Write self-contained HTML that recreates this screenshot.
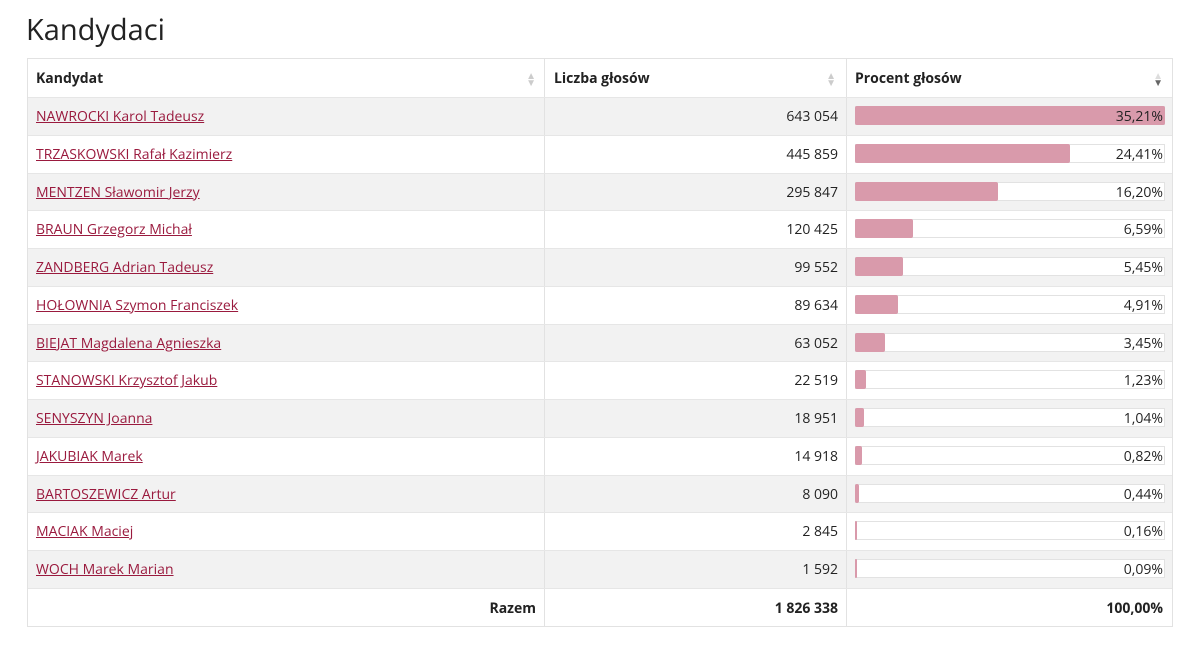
<!DOCTYPE html>
<html><head><meta charset="utf-8"><style>
body{margin:0;width:1200px;height:657px;background:#fff;font-family:"Open Sans","Liberation Sans",sans-serif;color:#222;position:relative;overflow:hidden}
h1{position:absolute;left:26px;top:10px;margin:0;font-weight:400;font-size:29px;color:#222}
.tbl{position:absolute;left:27px;top:58px;width:1146px;border:1px solid #e2e2e2;box-sizing:border-box}
.row{position:relative;height:37.75px;border-top:1px solid #e6e6e6;box-sizing:border-box;font-size:14px}
.row:first-child{border-top:none;height:38px}
.row.g{background:#f2f2f2}
.c1,.c2,.c3{position:absolute;top:0;height:100%;box-sizing:border-box}
.c1{left:0;width:516px;padding-left:8px;line-height:37px}
.c2{left:516px;width:302px;border-left:1px solid #e2e2e2;text-align:right;padding-right:8px;line-height:37px}
.c3{left:818px;width:327px;border-left:1px solid #e2e2e2}
a{color:#9a1a3e;text-decoration:underline}
.hd{font-weight:bold;font-size:14px}
.hd .c1,.hd .c2,.hd .c3 span{line-height:39px}
.bar{position:absolute;left:8px;top:8px;width:310px;height:19px;background:#fff;border:1px solid #e2e2e2;box-sizing:border-box}
.fill{position:absolute;left:-1px;top:-1px;bottom:-1px;background:#d99aab;border-radius:2px}
.pct{position:absolute;right:10px;top:0;line-height:37px}
.arr{position:absolute;right:10px;top:13px;color:#ccc;font-size:10px;line-height:7px !important;text-align:center}
</style></head><body>
<h1>Kandydaci</h1>
<div class="tbl">
<div class="row hd"><div class="c1">Kandydat<span class="arr" style="right:8px">▲<br>▼</span></div><div class="c2" style="text-align:left;padding-left:9px">Liczba głosów<span class="arr">▲<br>▼</span></div><div class="c3"><span style="position:absolute;left:8px">Procent głosów</span><span class="arr"><span style="color:#ddd;line-height:7px">▲</span><br><span style="color:#666;line-height:7px">▼</span></span></div></div>
<div id="rows"></div>
<div class="row hd"><div class="c1" style="text-align:right;padding-right:8px">Razem</div><div class="c2">1 826 338</div><div class="c3"><span class="pct">100,00%</span></div></div>
</div>
<script>
var d=[["NAWROCKI Karol Tadeusz","643 054",35.21],["TRZASKOWSKI Rafał Kazimierz","445 859",24.41],["MENTZEN Sławomir Jerzy","295 847",16.20],["BRAUN Grzegorz Michał","120 425",6.59],["ZANDBERG Adrian Tadeusz","99 552",5.45],["HOŁOWNIA Szymon Franciszek","89 634",4.91],["BIEJAT Magdalena Agnieszka","63 052",3.45],["STANOWSKI Krzysztof Jakub","22 519",1.23],["SENYSZYN Joanna","18 951",1.04],["JAKUBIAK Marek","14 918",0.82],["BARTOSZEWICZ Artur","8 090",0.44],["MACIAK Maciej","2 845",0.16],["WOCH Marek Marian","1 592",0.09]];
var h="";d.forEach(function(r,i){var w=Math.max(2,r[2]/35.21*310);h+='<div class="row'+(i%2==0?' g':'')+'"><div class="c1"><a>'+r[0]+'</a></div><div class="c2">'+r[1]+'</div><div class="c3"><div class="bar"><div class="fill" style="width:'+w+'px"></div></div><span class="pct">'+r[2].toFixed(2).replace('.',',')+'%</span></div></div>';});
document.getElementById("rows").outerHTML=h;
</script>
</body></html>
